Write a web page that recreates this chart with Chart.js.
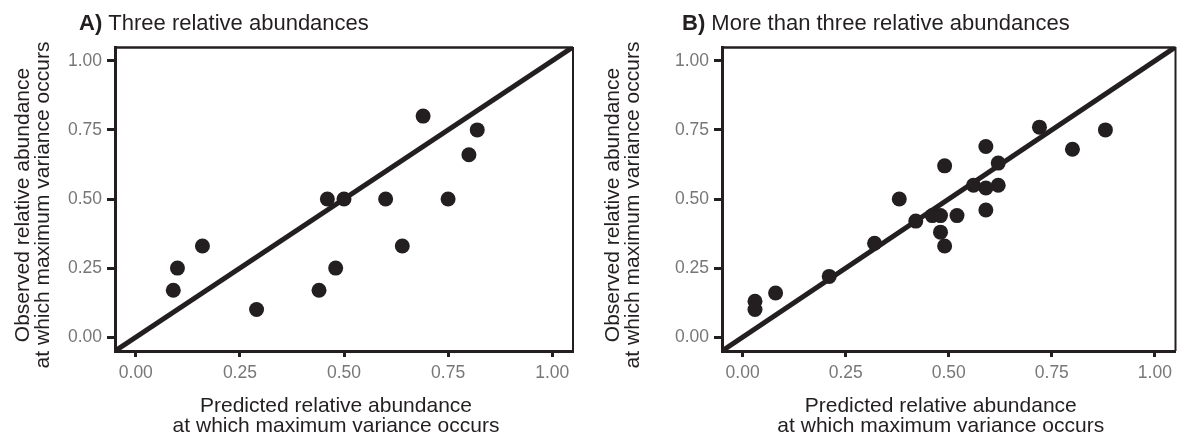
<!DOCTYPE html>
<html><head><meta charset="utf-8">
<script src="https://cdn.jsdelivr.net/npm/chart.js@4.4.1/dist/chart.umd.min.js"></script>
<style>
html,body{margin:0;padding:0;background:#fff;}
#wrap{position:relative;width:1183px;height:439px;overflow:hidden;}
canvas{position:absolute;top:0;}
</style></head><body>
<div id="wrap"><canvas id="cA" width="590" height="439" style="left:0"></canvas><canvas id="cB" width="593" height="439" style="left:590px"></canvas></div>
<script>
const panelALabel = "A)";
const panelATitle = "Three relative abundances";
const panelBLabel = "B)";
const panelBTitle = "More than three relative abundances";
const xAxisTitle = ["Predicted relative abundance", "at which maximum variance occurs"];
const yAxisTitle = ["Observed relative abundance", "at which maximum variance occurs"];
const tickValues = [0, 0.25, 0.5, 0.75, 1];
const axisRange = [-0.05, 1.05];
const identityLine = [-0.05, 1.05];

const threePredicted = [0.09, 0.10, 0.16, 0.29, 0.44, 0.46, 0.48, 0.50, 0.60, 0.64, 0.69, 0.75, 0.80, 0.82];
const threeObserved  = [0.17, 0.25, 0.33, 0.10, 0.17, 0.50, 0.25, 0.50, 0.50, 0.33, 0.80, 0.50, 0.66, 0.75];

const morePredicted = [0.03, 0.03, 0.08, 0.21, 0.32, 0.38, 0.42, 0.46, 0.48, 0.48, 0.49, 0.49, 0.52, 0.56, 0.59, 0.59, 0.59, 0.62, 0.62, 0.72, 0.80, 0.88];
const moreObserved  = [0.13, 0.10, 0.16, 0.22, 0.34, 0.50, 0.42, 0.44, 0.44, 0.38, 0.33, 0.62, 0.44, 0.55, 0.54, 0.69, 0.46, 0.55, 0.63, 0.76, 0.68, 0.75];

const INK = '#231f20';
const FONT = "'Liberation Sans', Arial, Helvetica, sans-serif";

function makePanel(canvasId, label, title, xs, ys, yAxisWidth, padRight, titleX) {
  const pts = xs.map((x, i) => ({x: x, y: ys[i]}));
  const line = identityLine.map(v => ({x: v, y: v}));
  const titlePlugin = {
    id: 'panelTitle',
    afterDraw(chart) {
      const ctx = chart.ctx;
      const a = chart.chartArea;
      ctx.save();
      ctx.fillStyle = INK;
      ctx.textBaseline = 'middle';
      ctx.textAlign = 'left';
      ctx.font = "bold 22px " + FONT;
      ctx.fillText(label, titleX, 24);
      const w = ctx.measureText(label + " ").width;
      ctx.font = "22px " + FONT;
      ctx.fillText(title, titleX + w, 24);
      // x axis title
      ctx.textAlign = 'center';
      ctx.font = "21px " + FONT;
      const cx = (a.left + a.right) / 2 - 8;
      ctx.fillText(xAxisTitle[0], cx, 406.5);
      ctx.fillText(xAxisTitle[1], cx, 426.5);
      // y axis title
      const cy = (a.top + a.bottom) / 2 + 6;
      [23, 43].forEach((xx, i) => {
        ctx.save();
        ctx.translate(xx, cy);
        ctx.rotate(-Math.PI / 2);
        ctx.fillText(yAxisTitle[i], 0, 0);
        ctx.restore();
      });
      // top and right frame
      ctx.strokeStyle = INK;
      ctx.lineWidth = 2.5;
      ctx.beginPath();
      ctx.moveTo(a.left, a.top + 0.5);
      ctx.lineTo(a.right, a.top + 0.5);
      ctx.stroke();
      ctx.lineWidth = 2;
      ctx.beginPath();
      ctx.moveTo(a.right, a.top);
      ctx.lineTo(a.right, a.bottom);
      ctx.stroke();
      ctx.restore();
    }
  };
  const setTicks = s => { s.ticks = tickValues.map(v => ({value: v})); };
  return new Chart(document.getElementById(canvasId), {
    type: 'scatter',
    data: {
      datasets: [
        {type: 'scatter', data: pts, backgroundColor: INK, borderColor: INK, pointRadius: 7.5, pointHoverRadius: 7.5, borderWidth: 0, order: 1},
        {type: 'line', data: line, borderColor: INK, borderWidth: 5, pointRadius: 0, fill: false, order: 2}
      ]
    },
    options: {
      responsive: false,
      animation: false,
      events: [],
      layout: {padding: {top: 47, right: padRight, bottom: 0, left: 0}},
      plugins: {legend: {display: false}, tooltip: {enabled: false}, title: {display: false}},
      scales: {
        x: {
          type: 'linear', min: axisRange[0], max: axisRange[1],
          afterBuildTicks: setTicks,
          afterFit: s => { s.height = 88; },
          grid: {drawOnChartArea: false, drawTicks: true, tickLength: 6, tickWidth: 3, tickColor: INK},
          border: {display: true, width: 3, color: INK},
          ticks: {color: '#777', font: {family: FONT, size: 17.5}, padding: 6, callback: v => v.toFixed(2)},
          title: {display: false}
        },
        y: {
          type: 'linear', min: axisRange[0], max: axisRange[1],
          afterBuildTicks: setTicks,
          afterFit: s => { s.width = yAxisWidth; },
          grid: {drawOnChartArea: false, drawTicks: true, tickLength: 8, tickWidth: 3, tickColor: INK},
          border: {display: true, width: 3, color: INK},
          ticks: {color: '#777', font: {family: FONT, size: 17.5}, padding: 5, callback: v => v.toFixed(2)},
          title: {display: false}
        }
      }
    },
    plugins: [titlePlugin]
  });
}

makePanel('cA', panelALabel, panelATitle, threePredicted, threeObserved, 115, 17, 79);
makePanel('cB', panelBLabel, panelBTitle, morePredicted, moreObserved, 132, 5, 682 - 590);
</script>
</body></html>
